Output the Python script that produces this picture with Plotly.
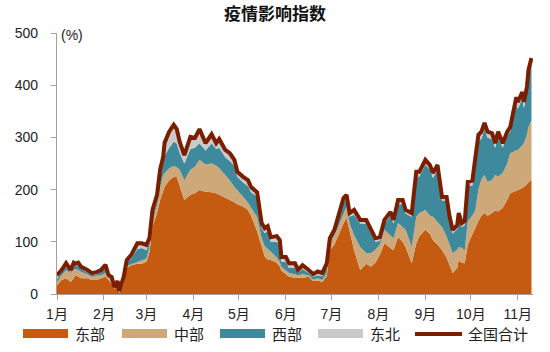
import plotly.graph_objects as go

dates = [
    "2022-01-01","2022-01-04","2022-01-07","2022-01-10","2022-01-12","2022-01-13","2022-01-15","2022-01-17",
    "2022-01-21","2022-01-24","2022-01-27","2022-01-30","2022-02-02","2022-02-04","2022-02-06","2022-02-08",
    "2022-02-10","2022-02-11","2022-02-14","2022-02-16","2022-02-19","2022-02-23","2022-02-26","2022-03-01",
    "2022-03-03","2022-03-05","2022-03-08","2022-03-10","2022-03-12","2022-03-13","2022-03-16","2022-03-19",
    "2022-03-21","2022-03-23","2022-03-26","2022-03-30","2022-04-02","2022-04-05","2022-04-09","2022-04-13",
    "2022-04-16","2022-04-18","2022-04-22","2022-04-25","2022-04-28","2022-04-30","2022-05-04","2022-05-07",
    "2022-05-09","2022-05-13","2022-05-16","2022-05-18","2022-05-20","2022-05-22","2022-05-26","2022-05-28",
    "2022-05-29","2022-06-01","2022-06-03","2022-06-07","2022-06-09","2022-06-12","2022-06-16","2022-06-19",
    "2022-06-22","2022-06-25","2022-06-28","2022-06-30","2022-07-03","2022-07-05","2022-07-09","2022-07-11",
    "2022-07-13","2022-07-16","2022-07-20","2022-07-24","2022-07-27","2022-07-30","2022-08-02","2022-08-05",
    "2022-08-09","2022-08-11","2022-08-14","2022-08-17","2022-08-19","2022-08-23","2022-08-26","2022-08-28",
    "2022-09-01","2022-09-04","2022-09-06","2022-09-09","2022-09-12","2022-09-15","2022-09-17","2022-09-19",
    "2022-09-22","2022-09-23","2022-09-25","2022-09-27","2022-09-29","2022-10-02","2022-10-04","2022-10-06",
    "2022-10-08","2022-10-10","2022-10-12","2022-10-15","2022-10-17","2022-10-19","2022-10-22","2022-10-25",
    "2022-10-27","2022-10-29","2022-10-31","2022-11-01","2022-11-04","2022-11-05","2022-11-07","2022-11-08",
    "2022-11-10",
]

east = [17,27,30,23,30,36,33,30,30,27,27,30,33,27,20,10,15,2,20,50,55,58,58,62,
        80,128,155,180,200,205,218,224,224,205,180,190,193,199,196,195,193,190,185,180,176,172,167,161,
        150,120,90,72,66,65,60,52,45,38,33,31,31,31,33,25,26,23,35,84,95,109,135,146,
        120,84,46,58,52,60,75,97,88,84,109,100,90,59,97,110,123,115,103,95,84,70,55,40,
        50,65,60,59,95,115,128,140,150,155,150,155,160,158,165,180,193,196,199,199,203,205,210,214,218]

central = [6,9,16,17,16,12,13,12,8,6,8,6,7,4,7,1,4,1,4,3,2,4,7,6,
           10,12,15,25,28,27,23,21,19,33,38,48,51,58,52,55,53,51,43,38,29,27,19,14,
           15,28,17,20,20,15,10,9,7,7,7,7,5,7,3,3,4,4,5,14,17,17,20,21,
           15,29,44,20,26,25,20,26,24,23,27,28,33,31,51,45,38,35,45,43,44,40,40,38,
           35,25,28,25,45,35,33,60,70,73,65,63,68,67,67,70,77,76,77,77,82,84,95,106,115]

west = [6,4,6,2,6,6,8,6,4,3,3,6,10,2,3,1,3,1,4,7,11,24,23,16,
        8,8,8,17,22,33,39,47,45,32,32,40,36,32,27,39,32,39,34,37,40,25,27,32,
        30,38,19,25,34,20,30,34,10,17,10,12,4,10,4,5,6,7,12,4,5,9,20,15,
        13,39,45,57,38,15,7,12,38,28,36,44,31,58,77,70,87,88,74,100,50,68,45,38,
        40,58,40,48,67,58,91,92,78,87,85,78,52,75,48,52,42,66,86,79,90,67,83,98,107]

northeast = [7,6,7,4,8,4,6,4,4,4,4,4,6,3,3,1,3,2,5,5,7,11,9,10,
             9,13,12,16,12,25,31,32,28,21,16,23,19,27,14,17,11,17,14,15,12,10,11,11,
             10,9,10,9,10,9,11,8,9,9,9,9,6,7,6,5,7,6,7,5,6,7,9,8,
             7,9,7,7,7,7,7,7,7,7,8,8,7,7,9,9,9,9,10,9,8,8,8,7,
             7,7,8,8,8,9,10,13,13,13,11,12,9,11,9,9,8,11,15,13,12,12,9,11,12]

total = [e + c + w + n for e, c, w, n in zip(east, central, west, northeast)]

month_ticks = ["2022-%02d-01" % m for m in range(1, 12)]
month_labels = ["%d月" % m for m in range(1, 12)]
y_ticks = [0, 100, 200, 300, 400, 500]

series_names = ["东部", "中部", "西部", "东北"]
series_colors = ["#C55A11", "#CDA879", "#3E8A9C", "#C9C9C9"]
total_name = "全国合计"
total_color = "#7B1E00"

fig = go.Figure()
for name, vals, col in zip(series_names, [east, central, west, northeast], series_colors):
    fig.add_trace(go.Scatter(x=dates, y=vals, name=name, stackgroup="one",
                             mode="lines", line=dict(width=0, color=col),
                             fillcolor=col, showlegend=False))
fig.add_trace(go.Scatter(x=dates, y=total, name=total_name, mode="lines",
                         line=dict(width=4, color=total_color), showlegend=False))

W, H = 550, 352
L, R, T, B = 57, 17, 33, 58
pw, ph = W - L - R, H - T - B

def px(x):
    return (x - L) / pw

def py(y):
    return (H - B - y) / ph

shapes = []
annotations = []
legend_items = [(23, series_names[0], series_colors[0], "box"),
                (122, series_names[1], series_colors[1], "box"),
                (220, series_names[2], series_colors[2], "box"),
                (318, series_names[3], series_colors[3], "box"),
                (415, total_name, total_color, "line")]
for x0, name, col, kind in legend_items:
    if kind == "box":
        shapes.append(dict(type="rect", xref="paper", yref="paper",
                           x0=px(x0), x1=px(x0 + 45), y0=py(338), y1=py(329),
                           fillcolor=col, line=dict(width=0)))
    else:
        shapes.append(dict(type="line", xref="paper", yref="paper",
                           x0=px(x0), x1=px(x0 + 47), y0=py(334), y1=py(334),
                           line=dict(color=col, width=4)))
    annotations.append(dict(text=name, xref="paper", yref="paper",
                            x=px(x0 + (50 if kind == "box" else 51)), y=py(334),
                            xanchor="left", yanchor="middle", showarrow=False,
                            font=dict(size=15, color="#222222")))

annotations.append(dict(text="(%)", xref="paper", yref="paper", x=px(59), y=py(35),
                        xanchor="left", yanchor="middle", showarrow=False,
                        font=dict(size=14, color="#222222")))

fig.update_layout(
    width=W, height=H,
    margin=dict(l=L, r=R, t=T, b=B),
    paper_bgcolor="white", plot_bgcolor="white",
    font=dict(family="Liberation Sans, Noto Sans CJK SC, sans-serif", size=14, color="#222222"),
    title=dict(text="<b>疫情影响指数</b>", x=0.5, xref="container", xanchor="center",
               y=1 - 14 / H, yref="container", yanchor="middle",
               font=dict(size=17, family="Noto Sans CJK SC, sans-serif", color="#111111")),
    shapes=shapes, annotations=annotations,
    showlegend=False,
)
fig.update_xaxes(type="date", range=["2022-01-01", "2022-11-11"],
                 tickvals=month_ticks, ticktext=month_labels,
                 ticks="outside", ticklen=5, tickcolor="#A0A0A0", tickwidth=1.3,
                 showline=True, linecolor="#A0A0A0", linewidth=1.3,
                 showgrid=False, zeroline=False, ticklabelstandoff=2,
                 tickfont=dict(size=14, family="Liberation Sans, Noto Sans CJK SC"))
fig.update_yaxes(range=[0, 500], tickvals=y_ticks,
                 ticks="outside", ticklen=5, tickcolor="#A0A0A0", tickwidth=1.3,
                 showline=True, linecolor="#A0A0A0", linewidth=1.3,
                 showgrid=False, zeroline=False, ticklabelstandoff=10,
                 tickfont=dict(size=14))

fig.write_html("out.html")
